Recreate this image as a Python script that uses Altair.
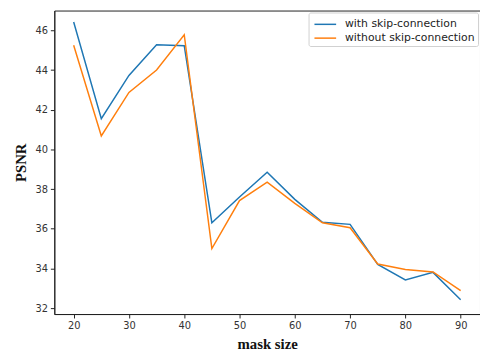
import altair as alt
import pandas as pd

mask_size = [20, 25, 30, 35, 40, 45, 50, 55, 60, 65, 70, 75, 80, 85, 90]
with_skip = [46.42, 41.55, 43.73, 45.27, 45.23, 36.3, 37.6, 38.85, 37.48, 36.33, 36.22, 34.2, 33.42, 33.8, 32.42]
without_skip = [45.25, 40.68, 42.87, 44.0, 45.78, 35.0, 37.42, 38.35, 37.28, 36.3, 36.05, 34.22, 33.95, 33.82, 32.88]
series_names = ["with skip-connection", "without skip-connection"]
colors = ["#1f77b4", "#ff7f0e"]

rows = []
for name, vals in zip(series_names, [with_skip, without_skip]):
    for x, v in zip(mask_size, vals):
        rows.append({"mask size": x, "PSNR": v, "series": name})
df = pd.DataFrame(rows)

chart = alt.Chart(df).mark_line(strokeWidth=1.5, clip=True).encode(
    x=alt.X("mask size:Q",
            scale=alt.Scale(domain=[16.5, 93.5], nice=False, zero=False),
            axis=alt.Axis(values=[20, 30, 40, 50, 60, 70, 80, 90], title="mask size",
                          titleFont="Liberation Serif", titleFontSize=15, titleFontWeight="bold",
                          titleColor="#111", titlePadding=6)),
    y=alt.Y("PSNR:Q",
            scale=alt.Scale(domain=[31.7, 47.0], nice=False, zero=False),
            axis=alt.Axis(values=[32, 34, 36, 38, 40, 42, 44, 46], title="PSNR",
                          titleFont="Liberation Serif", titleFontSize=15, titleFontWeight="bold",
                          titleColor="#111", titlePadding=7)),
    color=alt.Color("series:N", sort=series_names,
                    scale=alt.Scale(domain=series_names, range=colors),
                    legend=alt.Legend(title=None, orient="none", legendX=258, legendY=2,
                                      symbolType="M-0.75,0H2", symbolSize=256, symbolStrokeWidth=1.5,
                                      labelFont="DejaVu Sans", labelFontSize=11, labelColor="#222",
                                      strokeColor="#d0d0d0", fillColor="white", padding=3,
                                      cornerRadius=2, rowPadding=-1, labelOffset=16)),
).properties(
    width=432, height=308,
    autosize=alt.AutoSizeParams(type="none"),
    padding={"left": 47, "top": 0, "right": 0, "bottom": 40},
).configure_view(
    stroke="#222", strokeWidth=1
).configure_axis(
    grid=False, domainColor="#222", domainWidth=1, tickColor="#222", tickSize=4,
    labelFont="DejaVu Sans", labelFontSize=10, labelColor="#333", labelPadding=3
)

chart.save("out.html", embed_options={"renderer": "svg", "actions": False})
